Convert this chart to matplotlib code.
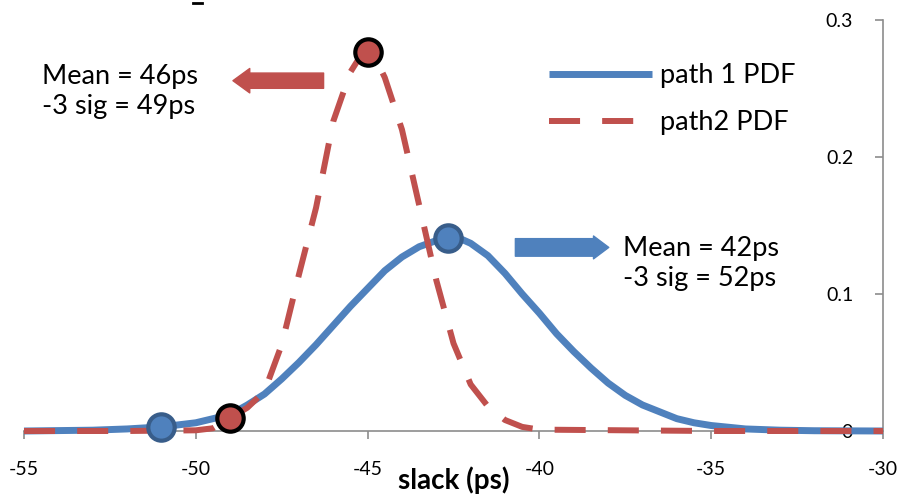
import matplotlib
matplotlib.use("Agg")
import matplotlib.pyplot as plt
from matplotlib.patches import FancyArrowPatch
from matplotlib.lines import Line2D

plt.rcParams['font.family'] = ['Lato', 'DejaVu Sans']
plt.rcParams['axes.unicode_minus'] = False

# ------------------------------------------------------------------
# donnees
# ------------------------------------------------------------------
x_path1 = [-55, -54, -53, -52, -51, -50, -49.5, -49, -48.5, -48, -47.5, -47,
           -46.5, -46, -45.5, -45, -44.5, -44, -43.5, -43, -42.75, -42.5,
           -42.25, -42, -41.5, -41, -40.5, -40, -39.5, -39, -38.5, -38, -37.5,
           -37, -36.5, -36, -35.5, -35, -34, -33, -32, -31, -30]
y_path1 = [0.0, 0.0003, 0.0006, 0.0015, 0.003, 0.006, 0.009, 0.012, 0.019,
           0.027, 0.038, 0.050, 0.063, 0.077, 0.091, 0.104, 0.117, 0.127,
           0.1345, 0.139, 0.1403, 0.1405, 0.1398, 0.137, 0.128, 0.115, 0.100,
           0.086, 0.071, 0.058, 0.046, 0.035, 0.026, 0.019, 0.014, 0.009,
           0.006, 0.004, 0.0015, 0.0006, 0.0002, 0.0001, 0.0]

x_path2 = [-55, -52, -50, -49.5, -49, -48.5, -48, -47.5, -47, -46.5, -46,
           -45.5, -45.25, -45, -44.75, -44.5, -44, -43.5, -43, -42.5, -42,
           -41.5, -41, -40.5, -40, -35, -30]
y_path2 = [0.0, 0.0, 0.0005, 0.002, 0.0095, 0.017, 0.029, 0.063, 0.114,
           0.163, 0.226, 0.262, 0.272, 0.277, 0.271, 0.258, 0.220, 0.165,
           0.110, 0.064, 0.034, 0.018, 0.008, 0.003, 0.001, 0.0, 0.0]

pts1_x = [-51, -42.66]
pts1_y = [0.003, 0.1406]
pts2_x = [-49, -45]
pts2_y = [0.0095, 0.277]

labels = ["path 1 PDF", "path2 PDF"]
txt2 = "Mean = 46ps\n-3 sig = 49ps"
txt1 = "Mean = 42ps\n-3 sig = 52ps"

bleu = '#4F81BD'
bleu_fonce = '#385D8A'
rouge = '#C0504D'
gris = '#8C8C8C'

# ------------------------------------------------------------------
# graphique
# ------------------------------------------------------------------
fig = plt.figure(figsize=(9, 4.96), dpi=100)
ax = fig.add_axes([24/900, 1-431/496, (883-24)/900, (431-20)/496])

ax.plot(x_path1, y_path1, color=bleu, linewidth=5, label=labels[0],
        clip_on=False, solid_capstyle='butt', solid_joinstyle='round', zorder=3)
ax.plot(x_path2, y_path2, color=rouge, linewidth=4.3, label=labels[1],
        linestyle=(0, (5.2, 3.7)), dash_capstyle='butt', clip_on=False, zorder=4)

ax.plot(pts1_x, pts1_y, 'o', markersize=19, markerfacecolor=bleu,
        markeredgecolor=bleu_fonce, markeredgewidth=3, clip_on=False, zorder=5)
ax.plot(pts2_x, pts2_y, 'o', markersize=19, markerfacecolor=rouge,
        markeredgecolor='black', markeredgewidth=3, clip_on=False, zorder=5)

# fleches
fl_rouge = FancyArrowPatch((-46.2, 0.2557), (-49.0, 0.2557),
                           arrowstyle='simple,head_length=1.1,head_width=1.6,tail_width=1.0',
                           mutation_scale=11, color=rouge, zorder=2)
fl_bleu = FancyArrowPatch((-40.78, 0.134), (-37.9, 0.134),
                          arrowstyle='simple,head_length=1.0,head_width=1.5,tail_width=1.15',
                          mutation_scale=11, color=bleu, zorder=2)
ax.add_patch(fl_rouge)
ax.add_patch(fl_bleu)

ax.text(-54.47, 0.2475, txt2, fontsize=19.5, ha='left', va='center', linespacing=1.25)
ax.text(-37.57, 0.1225, txt1, fontsize=19.5, ha='left', va='center', linespacing=1.25)

ax.set_xlim(-55, -30)
ax.set_ylim(0, 0.3)
ax.set_xticks([-55, -50, -45, -40, -35, -30])
ax.set_yticks([0, 0.1, 0.2, 0.3])
ax.set_yticklabels(["0", "0.1", "0.2", "0.3"])

for s in ['top', 'right']:
    ax.spines[s].set_visible(False)
ax.spines['left'].set_position(('data', -30))
ax.spines['left'].set_color(gris)
ax.spines['bottom'].set_color(gris)
ax.spines['left'].set_linewidth(1.2)
ax.spines['bottom'].set_linewidth(1.2)
ax.tick_params(axis='both', colors=gris, labelcolor='black', labelsize=14,
               length=5.5, width=1.2)
ax.tick_params(axis='y', pad=16)
ax.tick_params(axis='x', pad=16)

ax.set_xlabel("slack (ps)", fontsize=20, fontweight='bold', labelpad=-8)

ax.legend(loc='upper left', bbox_to_anchor=(549/900, 1-63/496),
          bbox_transform=fig.transFigure, frameon=False, fontsize=19.5,
          handlelength=3.8, handletextpad=0.3, labelspacing=0.82,
          borderpad=0, borderaxespad=0)

# petit reste du titre coupe en haut
fig.add_artist(Line2D([193/900, 202/900], [1-3/496, 1-3/496], color='black', linewidth=2))

plt.savefig("out.png", dpi=100)
plt.close()
